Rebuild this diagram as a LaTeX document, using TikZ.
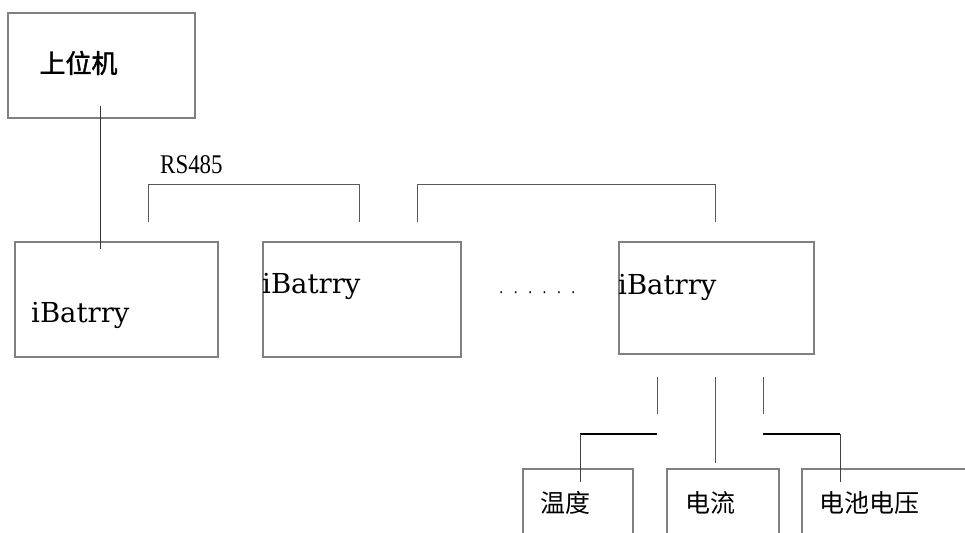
\documentclass[tikz,border=0pt]{standalone}
\usepackage{fontspec}
\newfontfamily\cjk{Noto Sans CJK SC}
\newfontfamily\cjkb[FakeBold=1.5]{Noto Sans CJK SC}
\newfontfamily\latinser{DejaVu Serif}
\newfontfamily\narrowser[FakeStretch=0.85]{Liberation Serif}
\begin{document}
\begin{tikzpicture}[x=1pt,y=-1pt,
  box/.style={draw=black!50,line width=1.1pt,inner sep=0pt,fill=none},
  wire/.style={draw=black!65,line width=1pt},
  thickwire/.style={draw=black,line width=2.2pt},
  batt/.style={font=\fontsize{27.5}{30}\latinser,inner sep=0pt,anchor=base west},
  cjklabel/.style={font=\fontsize{25}{28}\cjk,inner sep=0pt},
]
\useasboundingbox (0,0) rectangle (965,532);
\clip (0,0) rectangle (965,532);
% boxes
\node[box,minimum width=187pt,minimum height=105pt] (host) at (101.5,65.5) {};
\node[box,minimum width=203pt,minimum height=115pt] (b1) at (116.5,299.5) {};
\node[box,minimum width=198pt,minimum height=115pt] (b2) at (362,299.5) {};
\node[box,minimum width=195pt,minimum height=112pt] (b3) at (716.5,298) {};
\node[box,minimum width=110pt,minimum height=80pt] (temp) at (578,509) {};
\node[box,minimum width=112pt,minimum height=80pt] (curr) at (723,509) {};
\node[box,minimum width=178pt,minimum height=80pt] (volt) at (891,509) {};
% texts
\node[font=\fontsize{26}{28}\cjkb,inner sep=0pt] (hostt) at (78.5,63) {上位机};
\node[batt] (b1t) at (31,322) {iBatrry};
\node[batt] (b2t) at (262,293) {iBatrry};
\node[batt] (b3t) at (618,294) {iBatrry};
\node[font=\fontsize{27}{30}\narrowser,inner sep=0pt,anchor=base west] (rs) at (160,173) {RS485};
\node[font=\fontsize{18}{20}\narrowser,inner sep=0pt,anchor=base west] (dots) at (494,293)
  {\makebox[14.4pt]{.}\makebox[14.4pt]{.}\makebox[14.4pt]{.}\makebox[14.4pt]{.}\makebox[14.4pt]{.}\makebox[14.4pt]{.}};
\node[cjklabel] (tempt) at (565.5,503) {温度};
\node[cjklabel] (currt) at (710,503) {电流};
\node[cjklabel] (voltt) at (869.5,503) {电池电压};
% connector points
\coordinate (h1) at (100,106);
\coordinate (h2) at (100,249);
\coordinate (r1a) at (148,222);
\coordinate (r1b) at (359,222);
\coordinate (r2a) at (417,222);
\coordinate (r2b) at (715,222);
\coordinate (s1a) at (657,377);
\coordinate (s1b) at (657,414);
\coordinate (s2a) at (715,377);
\coordinate (s2b) at (715,463);
\coordinate (s3a) at (763,377);
\coordinate (s3b) at (763,414);
\coordinate (t1) at (657,434);
\coordinate (t2) at (580,434);
\coordinate (t3) at (580,482);
\coordinate (v1) at (763,434);
\coordinate (v2) at (840,434);
\coordinate (v3) at (840,482);
% connectors
\draw[draw=black!80,line width=1pt] (h1) -- (h2);
\draw[wire] (r1a) -- ++(0,-38) -| (r1b);
\draw[wire] (r2a) -- ++(0,-38) -| (r2b);
\draw[wire] (s1a) -- (s1b);
\draw[wire] (s2a) -- (s2b);
\draw[wire] (s3a) -- (s3b);
\draw[thickwire] (t1) -- (t2);
\draw[wire,draw=black!75] (t2) -- (t3);
\draw[thickwire] (v1) -- (v2);
\draw[wire,draw=black!75] (v2) -- (v3);
\end{tikzpicture}
\end{document}
